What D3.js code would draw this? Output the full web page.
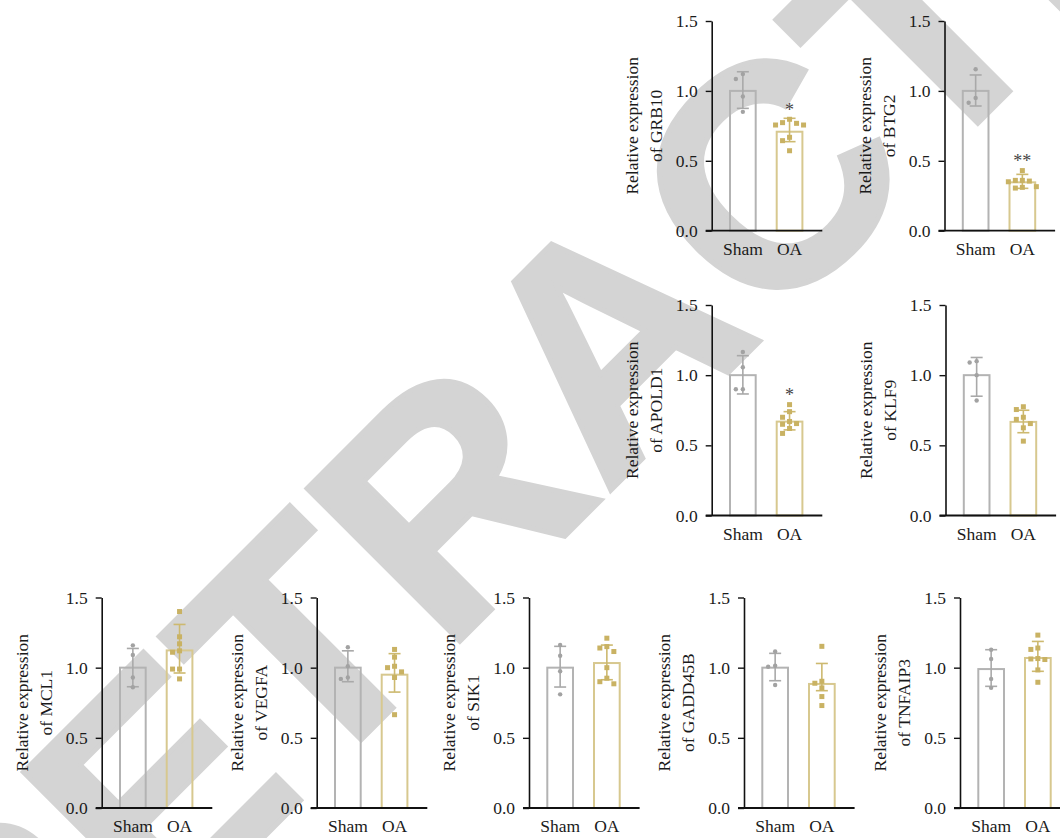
<!DOCTYPE html>
<html>
<head>
<meta charset="utf-8">
<script src="https://cdn.jsdelivr.net/npm/d3@7"></script>
<style>
  html, body { margin: 0; padding: 0; background: #fff; }
  svg { display: block; }
  text { font-family: "Liberation Serif", "Times New Roman", serif; }
</style>
</head>
<body>
<svg id="fig" width="1060" height="838"></svg>
<script>
// ---- data -------------------------------------------------------------
const genes = ["GRB10", "BTG2", "APOLD1", "KLF9", "MCL1", "VEGFA", "SIK1", "GADD45B", "TNFAIP3"];
const groups = ["Sham", "OA"];
const yTicks = [0, 0.5, 1.0, 1.5];

const shamMean = [1.0, 1.0, 1.0, 1.0, 1.0, 1.0, 1.0, 1.0, 0.99];
const shamErrHigh = [1.137, 1.114, 1.139, 1.126, 1.137, 1.12, 1.152, 1.102, 1.128];
const shamErrLow  = [0.875, 0.892, 0.866, 0.85, 0.864, 0.90, 0.862, 0.907, 0.867];

const oaMean = [0.708, 0.346, 0.669, 0.667, 1.123, 0.95, 1.033, 0.884, 1.069];
const oaErrHigh = [0.804, 0.403, 0.740, 0.75, 1.308, 1.10, 1.161, 1.03, 1.187];
const oaErrLow  = [0.637, 0.303, 0.610, 0.59, 0.962, 0.826, 0.914, 0.836, 0.974];

const shamPoints = [
  [1.12, 1.085, 0.96, 0.85],
  [1.155, 0.95, 0.915],
  [1.165, 1.056, 0.90, 0.90],
  [1.10, 1.09, 1.0, 0.82],
  [1.159, 1.09, 0.93, 0.86],
  [1.145, 1.01, 0.92, 0.93],
  [1.161, 1.085, 0.975, 0.81],
  [1.116, 1.007, 1.014, 0.877],
  [1.128, 1.062, 0.92, 0.856]
];
const oaPoints = [
  [0.797, 0.773, 0.768, 0.756, 0.756, 0.668, 0.644, 0.572],
  [0.43, 0.36, 0.36, 0.355, 0.35, 0.315, 0.31, 0.305],
  [0.79, 0.74, 0.70, 0.67, 0.655, 0.65, 0.62, 0.585],
  [0.775, 0.755, 0.70, 0.685, 0.655, 0.625, 0.53],
  [1.40, 1.22, 1.17, 1.12, 1.11, 0.99, 0.99, 0.92],
  [1.13, 1.075, 1.01, 1.0, 0.97, 0.93, 0.665],
  [1.21, 1.15, 1.14, 1.115, 1.0, 0.925, 0.90, 0.885],
  [1.152, 0.903, 0.889, 0.856, 0.794, 0.73],
  [1.232, 1.14, 1.13, 1.065, 1.062, 1.058, 0.984, 0.896]
];
const significance = ["*", "**", "*", "", "", "", "", "", ""];

// ---- layout -----------------------------------------------------------
// y-axis x position and vertical extent of each panel
const panels = [
  { ax: 711.7, top: 21,    bottom: 230.7 },
  { ax: 944.5, top: 21,    bottom: 230.7 },
  { ax: 711.7, top: 305,   bottom: 515.5 },
  { ax: 945.5, top: 305,   bottom: 515.5 },
  { ax: 101.7, top: 597.5, bottom: 808 },
  { ax: 316.7, top: 597.5, bottom: 808 },
  { ax: 529,   top: 597.5, bottom: 808 },
  { ax: 744,   top: 597.5, bottom: 808 },
  { ax: 960,   top: 597.5, bottom: 808 }
];

const style = {
  Sham: { stroke: "#b3b3b3", err: "#a9a9a9", point: "#a2a2a2" },
  OA:   { stroke: "#d7c88f", err: "#cdb96f", point: "#c9b263" }
};

const svg = d3.select("#fig");

// ---- watermark (behind the panels) -------------------------------------
svg.append("text")
  .attr("transform", "translate(606,336) rotate(-45)")
  .attr("text-anchor", "middle")
  .attr("dy", "0.358em")
  .style("font-family", "'Liberation Sans', Arial, sans-serif")
  .style("font-weight", "bold")
  .style("font-size", "314px")
  .attr("fill", "#d4d4d4")
  .attr("stroke", "#d4d4d4")
  .attr("stroke-width", 5)
  .attr("stroke-linejoin", "miter")
  .text("RETRACTED");

// simple column swarm: points that would overlap are pushed sideways
function swarm(values, y, cx, spacing, minD) {
  const placed = [];
  const order = values.map((v, i) => ({ v, i })).sort((a, b) => b.v - a.v);
  const offsets = [0, -1, 1, -2, 2, -3, 3, -4, 4];
  order.forEach(d => {
    const py = y(d.v);
    for (const k of offsets) {
      const px = cx + k * spacing;
      const hit = placed.some(p => Math.abs(p.x - px) < 0.5 && Math.abs(p.y - py) < minD);
      if (!hit) { placed.push({ x: px, y: py, v: d.v }); break; }
    }
  });
  return placed;
}

genes.forEach((gene, gi) => {
  const P = panels[gi];
  const g = svg.append("g");

  const y = d3.scaleLinear().domain([0, 1.5]).range([P.bottom, P.top]);
  const x = d3.scaleBand().domain(groups)
    .range([P.ax + 17.3, P.ax + 91.7])
    .paddingInner(0.407).paddingOuter(0);
  const bw = x.bandwidth();

  const stats = [
    { grp: "Sham", mean: shamMean[gi], hi: shamErrHigh[gi], lo: shamErrLow[gi], pts: shamPoints[gi] },
    { grp: "OA",   mean: oaMean[gi],   hi: oaErrHigh[gi],   lo: oaErrLow[gi],   pts: oaPoints[gi] }
  ];

  // bars (outline only)
  g.selectAll("rect.bar").data(stats).join("rect")
    .attr("class", "bar")
    .attr("x", d => x(d.grp) + 1)
    .attr("width", bw - 2)
    .attr("y", d => y(d.mean))
    .attr("height", d => y(0) - y(d.mean))
    .attr("fill", "none")
    .attr("stroke", d => style[d.grp].stroke)
    .attr("stroke-width", 2);

  // error bars
  stats.forEach(d => {
    const cx = x(d.grp) + bw / 2;
    const c = style[d.grp].err;
    const eg = g.append("g").attr("stroke", c).attr("stroke-width", 1.6);
    eg.append("line").attr("x1", cx).attr("x2", cx)
      .attr("y1", y(d.hi)).attr("y2", y(d.lo));
    [d.hi, d.lo].forEach(v => {
      eg.append("line").attr("x1", cx - 6).attr("x2", cx + 6)
        .attr("y1", y(v)).attr("y2", y(v));
    });
  });

  // individual values
  const shamXY = swarm(stats[0].pts, y, x("Sham") + bw / 2, 7, 6);
  g.selectAll("circle.pt").data(shamXY).join("circle")
    .attr("class", "pt")
    .attr("cx", d => d.x).attr("cy", d => d.y).attr("r", 2.2)
    .attr("fill", style.Sham.point);

  const oaXY = swarm(stats[1].pts, y, x("OA") + bw / 2, 7, 6.5);
  const sq = 5;
  g.selectAll("rect.pt").data(oaXY).join("rect")
    .attr("class", "pt")
    .attr("x", d => d.x - sq / 2).attr("y", d => d.y - sq / 2)
    .attr("width", sq).attr("height", sq)
    .attr("fill", style.OA.point);

  // significance marker above the OA column
  if (significance[gi]) {
    const topY = Math.min(y(stats[1].hi), d3.min(oaXY, d => d.y) - sq / 2) - 1;
    g.append("text")
      .attr("x", x("OA") + bw / 2)
      .attr("y", topY)
      .attr("text-anchor", "middle")
      .style("font-size", "18px")
      .attr("fill", "#444")
      .text(significance[gi]);
  }

  // y axis
  const yAxis = d3.axisLeft(y).tickValues(yTicks).tickFormat(d3.format(".1f"))
    .tickSize(6).tickPadding(8).tickSizeOuter(0);
  const ya = g.append("g").attr("transform", `translate(${P.ax},0)`).call(yAxis);
  ya.select(".domain").attr("stroke", "#111").attr("stroke-width", 1.6);
  ya.selectAll(".tick line").attr("stroke", "#111").attr("stroke-width", 1.4);
  ya.selectAll(".tick text")
    .style("font-family", "'Liberation Serif', serif")
    .style("font-size", "17.5px").attr("fill", "#1a1a1a");

  // x axis: baseline drawn across the panel, category labels below
  g.append("line")
    .attr("x1", P.ax - 6).attr("x2", P.ax + 110.6)
    .attr("y1", y(0)).attr("y2", y(0))
    .attr("stroke", "#111").attr("stroke-width", 1.8);
  const xAxis = d3.axisBottom(x).tickSize(0).tickPadding(12);
  const xa = g.append("g").attr("transform", `translate(0,${y(0)})`).call(xAxis);
  xa.select(".domain").remove();
  xa.selectAll(".tick text")
    .style("font-family", "'Liberation Serif', serif")
    .style("font-size", "17.5px").attr("fill", "#1a1a1a");

  // y title, two lines
  const midY = (P.top + P.bottom) / 2;
  const title = g.append("text")
    .attr("transform", `translate(${P.ax},${midY}) rotate(-90)`)
    .attr("text-anchor", "middle")
    .style("font-size", "17.5px").attr("fill", "#1a1a1a");
  title.append("tspan").attr("x", 0).attr("y", -74).text("Relative expression");
  title.append("tspan").attr("x", 0).attr("y", -50).text("of " + gene);
});
</script>
</body>
</html>
